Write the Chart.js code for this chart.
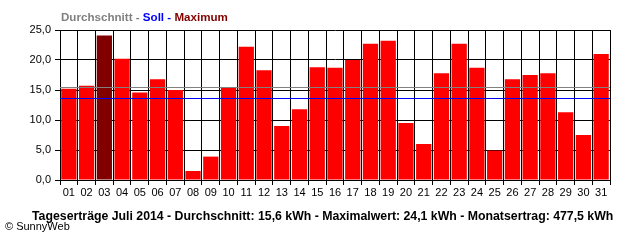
<!DOCTYPE html>
<html>
<head>
<meta charset="utf-8">
<script src="https://cdn.jsdelivr.net/npm/chart.js@4"></script>
<style>
  html, body { margin: 0; padding: 0; background: #fff; }
  #wrap { position: relative; width: 640px; height: 240px; overflow: hidden; }
  canvas { position: absolute; left: 0; top: 0; }
  .txt { position: absolute; white-space: nowrap; font-family: "Liberation Sans", Arial, sans-serif; line-height: 1; }
  #head { left: 61px; top: 11px; font-size: 11.6px; font-weight: bold; }
  #foot { left: 32px; top: 210px; font-size: 12.3px; font-weight: bold; color: #000; }
  #copy { left: 5px; top: 221px; font-size: 11px; color: #000; }
</style>
</head>
<body>
<div id="wrap">
  <canvas id="c" width="640" height="240"></canvas>
  <div class="txt" id="head"><span style="color:#808080">Durchschnitt - </span><span style="color:#0000ff">Soll - </span><span style="color:#800000">Maximum</span></div>
  <div class="txt" id="foot">Tageserträge Juli 2014 - Durchschnitt: 15,6 kWh - Maximalwert: 24,1 kWh - Monatsertrag: 477,5 kWh</div>
  <div class="txt" id="copy">© SunnyWeb</div>
</div>
<script>
const days = ['01','02','03','04','05','06','07','08','09','10','11','12','13','14','15','16','17','18','19','20','21','22','23','24','25','26','27','28','29','30','31'];
const dailyYield = [15.2,15.7,24.1,20.2,14.6,16.8,15.0,1.5,3.9,15.4,22.2,18.3,9.0,11.8,18.8,18.7,20.0,22.7,23.2,9.5,6.0,17.8,22.7,18.7,4.9,16.8,17.5,17.8,11.3,7.5,21.0];
const averageLine = 15.45;
const targetLine = 13.6;
const yTicks = [0, 5, 10, 15, 20, 25];

const maxVal = Math.max(...dailyYield);
const barColors = dailyYield.map(v => v === maxVal ? '#800000' : '#ff0000');

const refLines = {
  id: 'refLines',
  afterDatasetsDraw(chart) {
    const {ctx, chartArea, scales} = chart;
    const draw = (val, color) => {
      const y = Math.round(scales.y.getPixelForValue(val)) + 0.5;
      ctx.save();
      ctx.strokeStyle = color;
      ctx.lineWidth = 1;
      ctx.beginPath();
      ctx.moveTo(chartArea.left, y);
      ctx.lineTo(chartArea.right, y);
      ctx.stroke();
      ctx.restore();
    };
    draw(averageLine, '#808080');
    draw(targetLine, '#0000ff');
  }
};

new Chart(document.getElementById('c'), {
  type: 'bar',
  data: {
    labels: days,
    datasets: [{
      data: dailyYield,
      backgroundColor: barColors,
      borderWidth: 0,
      barPercentage: 0.86,
      categoryPercentage: 1.0
    }]
  },
  options: {
    responsive: false,
    animation: false,
    devicePixelRatio: 1,
    layout: { padding: { left: 0, right: 30, top: 30, bottom: 40 } },
    plugins: { legend: { display: false }, tooltip: { enabled: false }, title: { display: false } },
    scales: {
      x: {
        grid: { color: '#000', lineWidth: 1, offset: true, tickLength: 5, drawTicks: true },
        border: { color: '#000', width: 1 },
        ticks: { color: '#000', font: { family: 'Liberation Sans', size: 11 }, padding: 1, maxRotation: 0, autoSkip: false },
        afterFit: s => { s.height = 20; }
      },
      y: {
        min: 0, max: 25,
        afterBuildTicks: s => { s.ticks = yTicks.map(v => ({ value: v })); },
        grid: { color: '#000', lineWidth: 1, tickLength: 5, drawTicks: true },
        border: { color: '#000', width: 1 },
        ticks: { color: '#000', font: { family: 'Liberation Sans', size: 11 }, padding: 4,
                 callback: v => v.toFixed(1).replace('.', ',') },
        afterFit: s => { s.width = 60; }
      }
    }
  },
  plugins: [refLines]
});
</script>
</body>
</html>
